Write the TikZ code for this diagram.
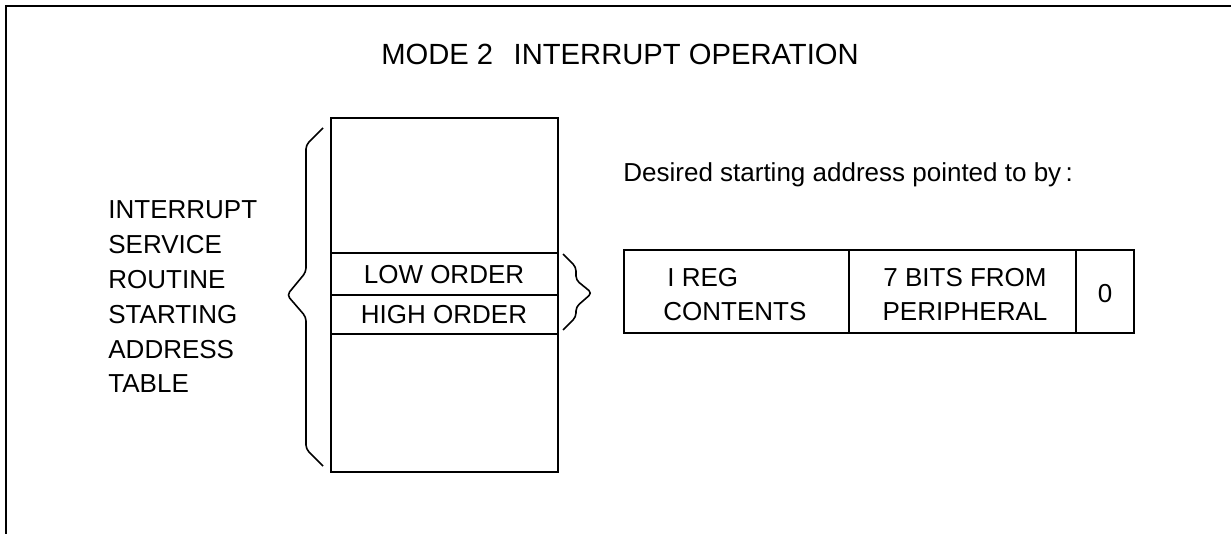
\documentclass[tikz,border=0pt]{standalone}
\usepackage{fontspec}
\setmainfont{Liberation Sans}
\usetikzlibrary{positioning}

\tikzset{
    frameline/.style={line width=1.1pt},
    boxline/.style={line width=1pt},
    regline/.style={line width=1.4pt},
    braceline/.style={line width=0.8pt, rounded corners=2pt},
    lbl/.style={font=\fontsize{13}{15}\selectfont, inner sep=0pt},
}

\begin{document}
\begin{tikzpicture}[x=0.5pt, y=-0.5pt]
    \useasboundingbox (0,0) rectangle (1231,534);
    % Outer frame, open at right and bottom
    \draw[frameline] (6,534) -- (6,6) -- (1231,6);
    \node[lbl, font=\fontsize{14.6}{16}\selectfont] (title) at (620,54) {MODE 2\hspace{0.7em}INTERRUPT OPERATION};
    % Starting address table
    \draw[boxline] (331,118) rectangle (558,472);
    \foreach \y in {253,295,334} {
        \draw[boxline] (331,\y) -- (558,\y);
    }
    \node[lbl] (loworder) at (444,275) {LOW ORDER};
    \node[lbl] (highorder) at (444,315) {HIGH ORDER};
    % Braces
    \draw[braceline] (323,128) -- (306,145) -- (306,272) -- (287,295) -- (306,317) -- (306,449) -- (323,466);
    \draw[braceline] (563,254) -- (576,267) -- (576,280) -- (592,293) -- (576,307) -- (576,317) -- (563,330);
    \foreach \w [count=\i] in {INTERRUPT,SERVICE,ROUTINE,STARTING,ADDRESS,TABLE} {
        \node[lbl, anchor=west] (table\i) at (108,{210+34.8*(\i-1)}) {\w};
    }
    % Register contents
    \node[lbl, anchor=west] (desired) at (623,175) {Desired starting address pointed to by\,:};
    \draw[regline] (624,250) rectangle (1134,333);
    \draw[boxline] (849,250) -- (849,333);
    \draw[boxline] (1076,250) -- (1076,333);
    \node[lbl, anchor=west] (ireg) at (667,278) {I REG};
    \node[lbl, anchor=west] (contents) at (663,312) {CONTENTS};
    \node[lbl] (sevenbits) at (965,278) {7 BITS FROM};
    \node[lbl] (peripheral) at (965,312) {PERIPHERAL};
    \node[lbl] (zero) at (1105,294) {0};
\end{tikzpicture}
\end{document}
